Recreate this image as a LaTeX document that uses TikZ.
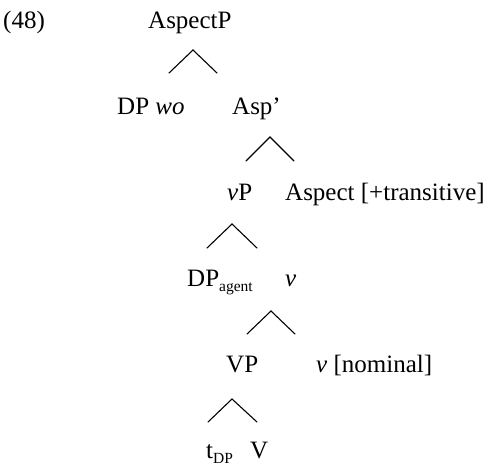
\documentclass[tikz,border=0pt]{standalone}
\usepackage{fontspec}
\setmainfont{Liberation Serif}
\begin{document}
\begin{tikzpicture}[x=1pt,y=-1pt,
  lbl/.style={anchor=base west,inner sep=0pt,font=\fontsize{25}{30}\selectfont},
  branch/.style={line width=1.1pt,line cap=round}]
\newcommand{\lowsub}[1]{\raisebox{-5pt}{\fontsize{15.5}{18}\selectfont #1}}
\useasboundingbox (0,0) rectangle (487,467);
\fill[white] (0,0) rectangle (487,467);

% example number
\node[lbl] (num) at (3,28) {(48)};

% tree labels, row by row
\node[lbl] (aspP)  at (148,28)  {AspectP};
\node[lbl] (dpwo)  at (117,114) {DP \textit{wo}};
\node[lbl] (aspbar) at (232,114) {Asp’};
\node[lbl] (vP)    at (227,200) {\textit{v}P};
\node[lbl] (asptr) at (285,200) {Aspect [+transitive]};
\node[lbl] (dpag)  at (187,286) {DP\lowsub{agent}};
\node[lbl] (vbar)  at (285,286) {\textit{v}};
\node[lbl] (VP)    at (226,372) {VP};
\node[lbl] (vnom)  at (316,372) {\textit{v} [nominal]};
\node[lbl] (tdp)   at (206,458) {t\lowsub{DP}};
\node[lbl] (V)     at (250,458) {V};

% branch points
\coordinate (a1) at (193,50);  \coordinate (l1) at (169,73);  \coordinate (r1) at (217,73);
\coordinate (a2) at (270,137); \coordinate (l2) at (246,161); \coordinate (r2) at (294,161);
\coordinate (a3) at (232,224); \coordinate (l3) at (207,248); \coordinate (r3) at (257,248);
\coordinate (a4) at (271,311); \coordinate (l4) at (247,334); \coordinate (r4) at (295,334);
\coordinate (a5) at (232,399); \coordinate (l5) at (208,422); \coordinate (r5) at (257,422);

\draw[branch] (l1) -- (a1) -- (r1);
\draw[branch] (l2) -- (a2) -- (r2);
\draw[branch] (l3) -- (a3) -- (r3);
\draw[branch] (l4) -- (a4) -- (r4);
\draw[branch] (l5) -- (a5) -- (r5);
\end{tikzpicture}
\end{document}
